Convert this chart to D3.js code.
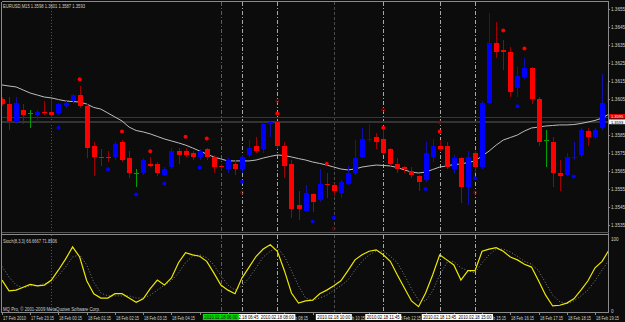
<!DOCTYPE html>
<html>
<head>
<meta charset="utf-8">
<script src="https://cdn.jsdelivr.net/npm/d3@7"></script>
<style>
body { margin: 0; background: #0b0c0b; }
svg { display: block; font-family: "Liberation Sans", Arial, sans-serif; }
</style>
</head>
<body>
<div id="vis"></div>
<script>
// chart size
const width = 625, height = 322;
const plotRight = 608;
const mainTop = 2, mainBottom = 231;
const subTop = 235, subBottom = 312;

// EURUSD M15 candles, 17 Feb 22:15 -> 18 Feb 19:45
const opens = [1.3605,1.3602,1.3592,1.3599,1.3597,1.3596,1.3598,1.3598,1.3597,1.3601,
  1.3604,1.3607,1.3601,1.3579,1.3573,1.3573,1.3573,1.3581,1.3572,1.3564,
  1.3564,1.3569,1.3569,1.3563,1.3567,1.3576,1.3576,1.3575,1.3573,1.3577,
  1.3573,1.3568,1.3566,1.3569,1.3566,1.3574,1.3579,1.3577,1.3591,1.3592,
  1.3579,1.3569,1.3546,1.3543,1.3552,1.3549,1.3558,1.3557,1.3553,1.3558,
  1.3564,1.3573,1.3582,1.3584,1.3583,1.3577,1.3569,1.3567,1.3565,1.3562,
  1.3560,1.3573,1.3579,1.3579,1.3566,1.3572,1.3556,1.3575,1.3567,1.3603,
  1.3636,1.3632,1.3631,1.3611,1.3617,1.3622,1.3605,1.3582,1.3581,1.3564,
  1.3563,1.3572,1.3574,1.3587,1.3584,1.3589,1.3603]
const highs = [1.3606,1.3606,1.3606,1.3602,1.3599,1.3599,1.3604,1.3605,1.3603,1.3604,
  1.3608,1.3612,1.3602,1.3581,1.3577,1.3576,1.3581,1.3582,1.3576,1.3566,
  1.3572,1.3573,1.3570,1.3567,1.3578,1.3578,1.3578,1.3576,1.3577,1.3578,
  1.3574,1.3569,1.3572,1.3571,1.3574,1.3582,1.3584,1.3592,1.3593,1.3593,
  1.3581,1.3571,1.3554,1.3557,1.3553,1.3566,1.3564,1.3558,1.3560,1.3568,
  1.3582,1.3589,1.3591,1.3586,1.3589,1.3578,1.3572,1.3568,1.3567,1.3563,
  1.3581,1.3583,1.3582,1.3581,1.3574,1.3573,1.3576,1.3576,1.3604,1.3653,
  1.3648,1.3638,1.3634,1.3623,1.3628,1.3623,1.3606,1.3588,1.3584,1.3571,
  1.3575,1.3581,1.3589,1.3589,1.3589,1.3619,1.3618]
const lows = [1.3601,1.3588,1.3591,1.3591,1.3589,1.3592,1.3596,1.3595,1.3596,1.3600,
  1.3602,1.3600,1.3572,1.3562,1.3568,1.3570,1.3571,1.3570,1.3561,1.3556,
  1.3563,1.3567,1.3562,1.3562,1.3566,1.3569,1.3573,1.3571,1.3571,1.3571,
  1.3564,1.3565,1.3564,1.3563,1.3564,1.3573,1.3575,1.3575,1.3584,1.3577,
  1.3561,1.3539,1.3538,1.3542,1.3542,1.3548,1.3550,1.3551,1.3550,1.3557,
  1.3563,1.3572,1.3581,1.3577,1.3574,1.3568,1.3564,1.3564,1.3561,1.3554,
  1.3559,1.3570,1.3576,1.3566,1.3564,1.3547,1.3546,1.3564,1.3566,1.3602,
  1.3628,1.3621,1.3606,1.3606,1.3616,1.3602,1.3579,1.3567,1.3556,1.3554,
  1.3562,1.3571,1.3573,1.3579,1.3583,1.3588,1.3602]
const closes = [1.3602,1.3593,1.3603,1.3596,1.3597,1.3598,1.3597,1.3596,1.3602,1.3603,
  1.3607,1.3601,1.3578,1.3573,1.3572,1.3572,1.3580,1.3571,1.3564,1.3564,
  1.3571,1.3568,1.3564,1.3566,1.3576,1.3574,1.3574,1.3573,1.3576,1.3573,
  1.3567,1.3567,1.3571,1.3566,1.3573,1.3578,1.3576,1.3591,1.3592,1.3579,
  1.3568,1.3544,1.3544,1.3553,1.3548,1.3558,1.3557,1.3554,1.3559,1.3564,
  1.3572,1.3583,1.3583,1.3581,1.3575,1.3569,1.3566,1.3566,1.3563,1.3559,
  1.3575,1.3579,1.3577,1.3567,1.3572,1.3556,1.3573,1.3567,1.3603,1.3636,
  1.3631,1.3631,1.3609,1.3618,1.3622,1.3605,1.3581,1.3582,1.3564,1.3562,
  1.3573,1.3573,1.3588,1.3584,1.3588,1.3603,1.3614]

// moving average (grey line)
const maValues = [1.36128,1.36122,1.36117,1.36100,1.36083,1.36072,1.36061,1.36056,1.36047,1.36039,
  1.36036,1.36033,1.36022,1.36003,1.35994,1.35972,1.35950,1.35928,1.35894,1.35875,
  1.35867,1.35856,1.35842,1.35828,1.35817,1.35806,1.35794,1.35778,1.35761,1.35744,
  1.35728,1.35717,1.35706,1.35706,1.35706,1.35706,1.35711,1.35722,1.35731,1.35739,
  1.35736,1.35728,1.35719,1.35711,1.35700,1.35692,1.35683,1.35672,1.35661,1.35656,
  1.35661,1.35672,1.35678,1.35683,1.35681,1.35678,1.35669,1.35656,1.35644,1.35639,
  1.35644,1.35658,1.35672,1.35678,1.35686,1.35689,1.35697,1.35706,1.35733,1.35761,
  1.35794,1.35822,1.35836,1.35850,1.35872,1.35889,1.35894,1.35900,1.35903,1.35906,
  1.35906,1.35908,1.35914,1.35922,1.35931,1.35944,1.35967]

// Stochastic(8,3,3)
const stochMain = [43,28,29,33,37,35,36,43,57,72,
  89,75,42,24,18,18,24,24,18,12,
  17,31,43,36,46,67,81,78,76,69,
  53,36,29,24,46,61,76,86,92,83,
  56,25,11,14,15,24,29,35,42,56,
  71,78,83,85,78,69,50,32,14,6,
  25,50,78,71,64,43,56,56,83,86,
  88,83,75,71,65,61,42,22,7,8,
  11,17,29,42,60,69,85]
const stochSignal = [62,47,36,32,35,35,38,40,49,61,
  75,78,64,40,25,21,21,21,21,18,
  18,22,29,36,42,53,67,76,78,74,
  64,49,36,29,35,46,60,75,83,88,
  76,56,35,18,15,18,22,29,35,43,
  57,69,78,83,83,76,67,50,31,15,
  14,28,50,67,69,60,56,53,67,78,
  86,86,82,76,69,65,56,39,22,13,
  10,14,21,29,42,57,71]

// right axis ticks
const priceTicks = [1.3535,1.3545,1.3555,1.3565,1.3575,1.3585,1.3595,1.3605,1.3615,1.3625,1.3635,1.3645,1.3655]
const askPrice = 1.3595, bidPrice = 1.3593

// time axis labels, one every 4 bars (null = hidden under an object label)
const timeLabels = ['17 Feb 2010','17 Feb 23:15','18 Feb 00:15','18 Feb 01:15','18 Feb 02:15','18 Feb 03:15',
  '18 Feb 04:15',null,null,null,'18 Feb 08:15',null,'18 Feb 10:15',
  null,'18 Feb 12:15',null,null,'18 Feb 15:15','18 Feb 16:15','18 Feb 17:15',
  '18 Feb 18:15','18 Feb 19:15']

// vertical line objects
const vLines = [
  { i: 7, kind: 'dot', label: null },
  { i: 34, kind: 'grey', label: '2010.02.18 06:45' },
  { i: 39, kind: 'grey', label: '2010.02.18 08:00' },
  { i: 47, kind: 'dark', label: '2010.02.18 10:00' },
  { i: 54, kind: 'grey', label: '2010.02.18 11:45' },
  { i: 62, kind: 'grey', label: '2010.02.18 13:45' },
  { i: 67, kind: 'grey', label: '2010.02.18 15:00' },
  { i: 31, kind: 'green', label: '2010.02.18 06:00' }
]

// signal dots
const redDotBars = [11,17,21,26,29,39,46,54,62,71,74]
const redDotPrices = [1.3616,1.3587,1.3576,1.3584,1.3583,1.3597,1.3569,1.3589,1.3587,1.3643,1.3633]
const blueDotBars = [8,15,19,23,28,34,44,47,60,67,73,81]
const blueDotPrices = [1.3589,1.3566,1.3552,1.3558,1.3567,1.3559,1.3537,1.3539,1.3555,1.3561,1.3601,1.3562]
const markBars = [39,54,62,34,67,47]
const markPrices = [1.3604,1.3599,1.3592,1.3553,1.3553,1.3533]

const lineStyles = {
  dot: { color: '#555', dash: '1,2' },
  grey: { color: '#a8a8a8', dash: '4,2,1,2' },
  dark: { color: '#4a4a4a', dash: '3,2' },
  green: { color: '#00a000', dash: '4,2,1,2' }
}

const xScale = d3.scaleLinear().domain([0, 86]).range([2, 2 + 7.06 * 86])
const yScale = d3.scaleLinear().domain([1.3535, 1.3655]).range([225, 9])
const sScale = d3.scaleLinear().domain([0, 100]).range([311, 239])

const svg = d3.select('#vis').append('svg')
  .attr('width', width).attr('height', height)

svg.append('rect').attr('width', width).attr('height', height).attr('fill', '#0b0c0b')

const defs = svg.append('defs')
defs.append('clipPath').attr('id', 'clipMain').append('rect')
  .attr('x', 2).attr('y', mainTop).attr('width', plotRight - 2).attr('height', mainBottom - mainTop)
defs.append('clipPath').attr('id', 'clipSub').append('rect')
  .attr('x', 2).attr('y', subTop).attr('width', plotRight - 2).attr('height', subBottom - subTop)

const bars = d3.range(opens.length).map(i => ({
  i, o: opens[i], h: highs[i], l: lows[i], c: closes[i]
}))

function px(i) { return Math.round(xScale(i)) }

// frames
function drawFrames() {
  const g = svg.append('g').attr('stroke', '#8a8a8a').attr('stroke-width', 1).attr('shape-rendering', 'crispEdges')
  g.append('line').attr('x1', 1.5).attr('x2', plotRight + 0.5).attr('y1', 1.5).attr('y2', 1.5)
  g.append('line').attr('x1', 1.5).attr('x2', 1.5).attr('y1', 1.5).attr('y2', subBottom + 0.5)
  g.append('line').attr('x1', plotRight + 0.5).attr('x2', plotRight + 0.5).attr('y1', 1.5).attr('y2', subBottom + 0.5)
  g.append('line').attr('x1', 1.5).attr('x2', plotRight + 0.5).attr('y1', 232.5).attr('y2', 232.5).attr('stroke', '#555')
  g.append('line').attr('x1', 1.5).attr('x2', plotRight + 0.5).attr('y1', subTop - 0.5).attr('y2', subTop - 0.5)
  g.append('line').attr('x1', 1.5).attr('x2', plotRight + 0.5).attr('y1', subBottom + 0.5).attr('y2', subBottom + 0.5)
}

function drawVLines() {
  const g = svg.append('g').attr('shape-rendering', 'crispEdges')
  vLines.forEach(v => {
    const st = lineStyles[v.kind]
    ;[[mainTop, mainBottom], [subTop, subBottom]].forEach(r => {
      g.append('line')
        .attr('x1', px(v.i) + 0.5).attr('x2', px(v.i) + 0.5)
        .attr('y1', r[0]).attr('y2', r[1])
        .attr('stroke', st.color).attr('stroke-dasharray', st.dash)
    })
  })
}

function drawPriceLines() {
  const g = svg.append('g').attr('shape-rendering', 'crispEdges')
  g.append('line').attr('x1', 2).attr('x2', plotRight)
    .attr('y1', Math.round(yScale(bidPrice)) + 1).attr('y2', Math.round(yScale(bidPrice)) + 1)
    .attr('stroke', '#333').attr('stroke-width', 2)
  g.append('line').attr('x1', 2).attr('x2', plotRight)
    .attr('y1', Math.round(yScale(askPrice)) + 0.5).attr('y2', Math.round(yScale(askPrice)) + 0.5)
    .attr('stroke', '#b00000').attr('stroke-width', 1)
}

function drawMA() {
  const line = d3.line().x((d, i) => xScale(i)).y(d => yScale(d))
  svg.append('path').datum(maValues)
    .attr('clip-path', 'url(#clipMain)')
    .attr('d', line).attr('fill', 'none')
    .attr('stroke', '#bdbdbd').attr('stroke-width', 1)
}

function drawCandles() {
  const g = svg.append('g').attr('clip-path', 'url(#clipMain)').attr('shape-rendering', 'crispEdges')
  g.selectAll('.wick').data(bars).join('line')
    .attr('class', 'wick')
    .attr('x1', d => px(d.i) + 0.5).attr('x2', d => px(d.i) + 0.5)
    .attr('y1', d => yScale(d.h)).attr('y2', d => yScale(d.l))
    .attr('stroke', d => d.c > d.o ? '#1010b0' : d.c < d.o ? '#a00000' : '#00a000')
  g.selectAll('.body').data(bars.filter(d => d.c !== d.o)).join('rect')
    .attr('class', 'body')
    .attr('x', d => px(d.i) - 2).attr('width', 5)
    .attr('y', d => yScale(Math.max(d.o, d.c)))
    .attr('height', d => Math.max(1, yScale(Math.min(d.o, d.c)) - yScale(Math.max(d.o, d.c))))
    .attr('fill', d => d.c > d.o ? '#0000ff' : '#ff0000')
  g.selectAll('.doji').data(bars.filter(d => d.c === d.o)).join('line')
    .attr('class', 'doji')
    .attr('x1', d => px(d.i) - 2).attr('x2', d => px(d.i) + 3)
    .attr('y1', d => Math.round(yScale(d.c)) + 0.5).attr('y2', d => Math.round(yScale(d.c)) + 0.5)
    .attr('stroke', '#00a000')
}

function drawDots() {
  const g = svg.append('g').attr('clip-path', 'url(#clipMain)')
  g.selectAll('.red').data(redDotBars).join('circle')
    .attr('cx', (d, k) => xScale(d)).attr('cy', (d, k) => yScale(redDotPrices[k]))
    .attr('r', 2).attr('fill', '#ff0000')
  g.selectAll('.blue').data(blueDotBars).join('circle')
    .attr('cx', (d, k) => xScale(d)).attr('cy', (d, k) => yScale(blueDotPrices[k]))
    .attr('r', 2).attr('fill', '#0000ff')
  g.selectAll('.mark').data(markBars).join('circle')
    .attr('cx', (d, k) => xScale(d)).attr('cy', (d, k) => yScale(markPrices[k]))
    .attr('r', 1.5).attr('fill', 'none').attr('stroke', '#8a0000').attr('stroke-width', 1)
}

function drawStoch() {
  const g = svg.append('g').attr('clip-path', 'url(#clipSub)')
  const line = d3.line().x((d, i) => xScale(i)).y(d => sScale(d))
  g.append('path').datum(stochSignal).attr('d', line).attr('fill', 'none')
    .attr('stroke', '#9a9a9a').attr('stroke-width', 0.8).attr('stroke-dasharray', '1,2')
  g.append('path').datum(stochMain).attr('d', line).attr('fill', 'none')
    .attr('stroke', '#f0e800').attr('stroke-width', 1.2)
}

function drawAxes() {
  const txt = '#d0d0d0'
  const g = svg.append('g').attr('font-size', 4.6).attr('fill', txt)
  const ay = yScale(askPrice), by = yScale(bidPrice)
  // price axis (label under the ask/bid boxes is hidden)
  priceTicks.forEach(p => {
    const y = Math.round(yScale(p))
    g.append('line').attr('x1', plotRight).attr('x2', plotRight + 2)
      .attr('y1', y + 0.5).attr('y2', y + 0.5).attr('stroke', '#8a8a8a')
    if (Math.abs(y - ay) > 5) g.append('text').attr('x', 611).attr('y', y + 2).text(p.toFixed(4))
  })
  // stochastic levels
  g.append('text').attr('x', 611).attr('y', sScale(100) + 2).text('100')
  g.append('text').attr('x', 611).attr('y', sScale(0) + 2).text('0')

  // ask / bid boxes
  g.append('rect').attr('x', 609).attr('y', ay - 3).attr('width', 16).attr('height', 4.5).attr('fill', '#e00000')
  g.append('text').attr('x', 611).attr('y', ay + 1.1).attr('font-size', 4).attr('fill', '#fff').text(askPrice.toFixed(4))
  g.append('rect').attr('x', 609).attr('y', by - 1.2).attr('width', 16).attr('height', 4.8).attr('fill', '#f4f4f4')
  g.append('text').attr('x', 611).attr('y', by + 3).attr('font-size', 4).attr('fill', '#000').text(bidPrice.toFixed(4))

  // time axis
  timeLabels.forEach((t, k) => {
    const x = px(k * 4)
    g.append('line').attr('x1', x + 0.5).attr('x2', x + 0.5)
      .attr('y1', subBottom).attr('y2', subBottom + 3).attr('stroke', '#8a8a8a')
    if (t) g.append('text').attr('x', x + 1).attr('y', 319.5)
      .attr('textLength', 23).attr('lengthAdjust', 'spacingAndGlyphs').text(t)
  })

  // vertical line labels
  vLines.filter(v => v.label).forEach(v => {
    const x = xScale(v.i)
    g.append('rect').attr('x', x - 18).attr('y', 314).attr('width', 36).attr('height', 6)
      .attr('fill', v.kind === 'green' ? '#00e000' : '#ffffff')
    g.append('text').attr('x', x - 16.5).attr('y', 319)
      .attr('textLength', 33).attr('lengthAdjust', 'spacingAndGlyphs')
      .attr('fill', '#000').text(v.label)
  })

  // captions
  g.append('text').attr('x', 3).attr('y', 7.5)
    .attr('textLength', 82).attr('lengthAdjust', 'spacingAndGlyphs')
    .text('EURUSD,M15  1.3598 1.3601 1.3587 1.3593')
  g.append('text').attr('x', 3).attr('y', 242.5)
    .attr('textLength', 54).attr('lengthAdjust', 'spacingAndGlyphs')
    .text('Stoch(8,3,3) 66.6667 71.8506')
  g.append('text').attr('x', 3).attr('y', 311)
    .attr('textLength', 97).attr('lengthAdjust', 'spacingAndGlyphs')
    .text('MQ Pro, © 2001-2009 MetaQuotes Software Corp.')
}

drawVLines()
drawPriceLines()
drawMA()
drawCandles()
drawDots()
drawStoch()
drawFrames()
drawAxes()
</script>
</body>
</html>
